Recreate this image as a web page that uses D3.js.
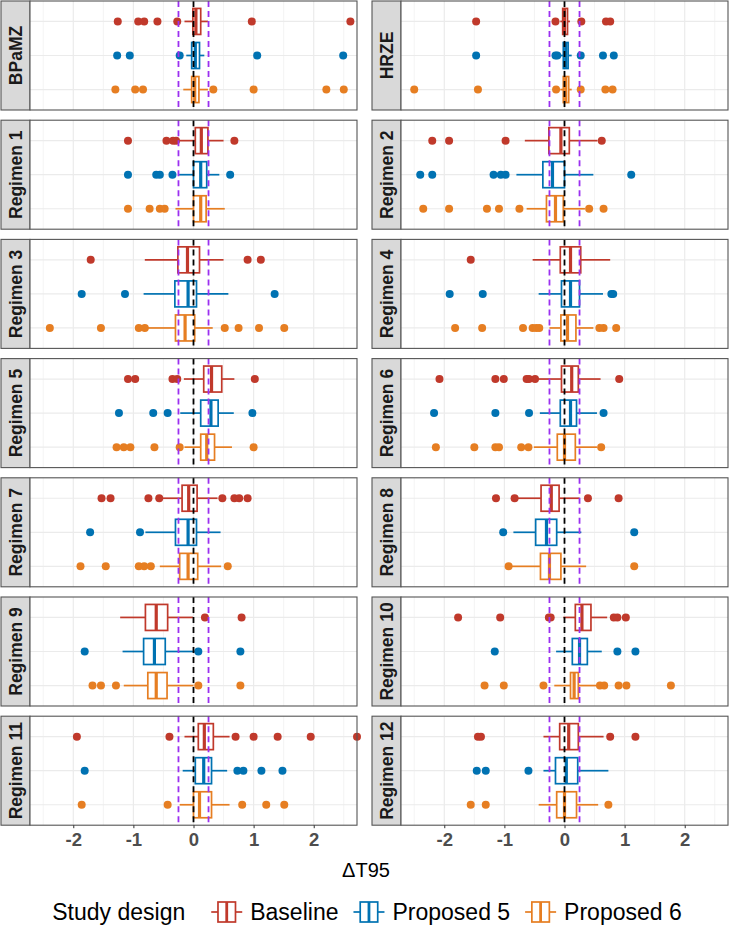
<!DOCTYPE html>
<html>
<head>
<meta charset="utf-8">
<script src="https://cdn.jsdelivr.net/npm/d3@7"></script>
<style>
  body { margin: 0; background: #fff; }
  svg { display: block; font-family: "Liberation Sans", Arial, sans-serif; }
</style>
</head>
<body>
<div id="chart"></div>
<script>
// facets and groups
const regimens = ["BPaMZ", "HRZE", "Regimen 1", "Regimen 2", "Regimen 3", "Regimen 4", "Regimen 5",
    "Regimen 6", "Regimen 7", "Regimen 8", "Regimen 9", "Regimen 10", "Regimen 11", "Regimen 12"];
const designs = ["Baseline", "Proposed 5", "Proposed 6"];
const designColors = ["#C0392B", "#0072B2", "#E67E22"];
const xTicks = [-2, -1, 0, 1, 2];
const refLines = [-0.25, 0, 0.25];

// box stats per regimen: [whisker low, q1, median, q3, whisker high]
const baselineBox = [
    [-0.15, -0.01, 0.04, 0.12, 0.24], [-0.07, -0.03, 0.00, 0.05, 0.09],
    [-0.23, 0.03, 0.13, 0.24, 0.50], [-0.66, -0.26, -0.06, 0.08, 0.55],
    [-0.81, -0.26, -0.10, 0.10, 0.50], [-0.53, -0.07, 0.10, 0.27, 0.76],
    [-0.16, 0.17, 0.30, 0.47, 0.68], [-0.46, -0.05, 0.12, 0.23, 0.60],
    [-0.51, -0.19, -0.08, 0.06, 0.40], [-0.80, -0.39, -0.22, -0.09, 0.25],
    [-1.22, -0.80, -0.62, -0.43, -0.01], [-0.02, 0.18, 0.29, 0.44, 0.71],
    [-0.15, 0.08, 0.18, 0.33, 0.60], [-0.35, -0.08, 0.07, 0.23, 0.65]
];
const proposed5Box = [
    [-0.12, -0.03, 0.03, 0.10, 0.18], [-0.07, -0.02, 0.02, 0.06, 0.12],
    [-0.24, 0.00, 0.12, 0.22, 0.43], [-0.80, -0.36, -0.20, 0.00, 0.48],
    [-0.83, -0.31, -0.09, 0.05, 0.58], [-0.43, -0.05, 0.10, 0.25, 0.64],
    [-0.22, 0.12, 0.29, 0.41, 0.67], [-0.41, -0.07, 0.10, 0.20, 0.54],
    [-0.80, -0.30, -0.09, 0.05, 0.45], [-0.85, -0.48, -0.30, -0.13, 0.28],
    [-1.18, -0.83, -0.65, -0.47, 0.02], [-0.14, 0.13, 0.25, 0.38, 0.62],
    [-0.18, 0.03, 0.17, 0.30, 0.56], [-0.35, -0.15, 0.03, 0.22, 0.73]
];
const proposed6Box = [
    [-0.17, -0.03, 0.02, 0.09, 0.24], [-0.07, -0.02, 0.02, 0.07, 0.12],
    [-0.30, 0.00, 0.12, 0.21, 0.52], [-0.63, -0.30, -0.15, -0.02, 0.34],
    [-0.77, -0.30, -0.14, 0.02, 0.32], [-0.25, -0.06, 0.05, 0.19, 0.48],
    [-0.15, 0.12, 0.22, 0.35, 0.64], [-0.51, -0.12, 0.00, 0.18, 0.54],
    [-0.56, -0.23, -0.09, 0.07, 0.46], [-0.90, -0.40, -0.25, -0.06, 0.36],
    [-1.16, -0.76, -0.62, -0.44, 0.00], [-0.17, 0.10, 0.16, 0.23, 0.54],
    [-0.23, 0.00, 0.10, 0.30, 0.60], [-0.43, -0.13, 0.00, 0.20, 0.56]
];

// outliers per regimen
const baselineOut = [
    [-1.26, -0.92, -0.82, -0.60, -0.27, 0.97, 2.61], [-1.47, -0.15, 0.28, 0.69, 0.76],
    [-1.09, -0.45, -0.34, -0.29, 0.68], [-2.20, -1.92, -0.98, 0.62],
    [-1.71, 0.90, 1.12], [-1.56],
    [-1.09, -0.97, -0.35, -0.27, 1.02], [-2.08, -1.15, -1.01, -0.63, -0.59, -0.49, 0.91],
    [-1.53, -1.38, -0.75, -0.57, 0.48, 0.68, 0.76, 0.90], [-1.14, -0.83, 0.39, 0.90],
    [0.19, 0.80], [-1.77, -1.07, -0.26, -0.23, 0.82, 0.88, 1.02],
    [-1.94, -0.40, 0.70, 1.00, 1.40, 1.95, 2.72], [-1.44, -1.39, 0.76, 1.18]
];
const proposed5Out = [
    [-1.27, -1.06, -0.23, 1.06, 2.49], [-1.47, -0.15, -0.12, 0.27, 0.64, 0.82],
    [-1.09, -0.62, -0.56, -0.35, 0.61], [-2.40, -2.20, -1.18, -1.06, -0.98, 1.11],
    [-1.86, -1.14, 1.35], [-1.91, -1.36, 0.78, 0.81],
    [-1.24, -0.67, -0.43, 0.98], [-2.17, -1.15, -0.59, 0.65],
    [-1.72, -0.89], [-1.02, 1.16],
    [-1.81, 0.08, 0.78], [-1.16, 0.88, 1.18],
    [-1.81, 0.73, 0.83, 1.13, 1.48], [-1.46, -1.31, -0.60]
];
const proposed6Out = [
    [-1.30, -0.97, -0.84, 0.33, 1.00, 2.21, 2.50], [-2.50, -1.44, -0.14, 0.27, 0.68, 0.80],
    [-1.09, -0.73, -0.56, -0.48], [-2.35, -1.92, -1.29, -1.09, -0.75, 0.41, 0.65],
    [-2.39, -1.54, -0.91, -0.81, 0.52, 0.75, 1.09, 1.51], [-1.82, -1.37, -0.69, -0.53, -0.47, -0.42, 0.58, 0.65, 0.86],
    [-1.28, -1.16, -1.05, -0.65, -0.23, 1.00], [-2.14, -1.50, -1.15, -1.09, -0.72, -0.60, 0.61],
    [-1.88, -1.46, -0.91, -0.82, -0.71, 0.57], [-0.93, 1.16],
    [-1.68, -1.54, -1.29, 0.08, 0.78], [-1.33, -1.01, -0.35, 0.59, 0.66, 0.90, 1.03, 1.77],
    [-1.86, -0.43, 0.81, 1.21, 1.51], [-1.56, -1.31, 0.73]
];

const boxes = [baselineBox, proposed5Box, proposed6Box];
const outliers = [baselineOut, proposed5Out, proposed6Out];

const width = 731, height = 928;
const colLeft = [1, 372];     // outer left of each facet (strip included)
const stripW = 29;
const plotW = 327;
const rowTop = 1, rowPitch = 119.2, panelH = 109;

const svg = d3.select("#chart").append("svg")
    .attr("width", width)
    .attr("height", height);

const x = d3.scaleLinear().domain([-2.72, 2.72]).range([0, plotW]);
const y = d3.scalePoint().domain(designs).range([0, panelH]).padding(0.6);
const boxH = 26;

const dashBlack = "#000", dashPurple = "#9B30F0";

regimens.forEach((reg, i) => {
    let col = i % 2, row = Math.floor(i / 2);
    let px = colLeft[col] + stripW, py = rowTop + row * rowPitch;

    // strip
    svg.append("rect")
        .attr("x", colLeft[col]).attr("y", py)
        .attr("width", stripW).attr("height", panelH)
        .attr("fill", "#D9D9D9").attr("stroke", "#555").attr("stroke-width", 1.1);
    svg.append("text")
        .attr("transform", `translate(${colLeft[col] + stripW / 2 + 6.5},${py + panelH / 2}) rotate(-90)`)
        .attr("text-anchor", "middle")
        .attr("font-size", 17.5).attr("font-weight", "bold").attr("fill", "#1A1A1A")
        .text(reg);

    let g = svg.append("g").attr("transform", `translate(${px},${py})`);
    g.append("rect").attr("width", plotW).attr("height", panelH).attr("fill", "#fff");

    // grid
    let minor = d3.range(-2.5, 2.6, 1);
    g.selectAll(".minor").data(minor).enter().append("line")
        .attr("x1", d => x(d)).attr("x2", d => x(d)).attr("y1", 0).attr("y2", panelH)
        .attr("stroke", "#EBEBEB").attr("stroke-width", 0.6);
    g.selectAll(".major").data(xTicks).enter().append("line")
        .attr("x1", d => x(d)).attr("x2", d => x(d)).attr("y1", 0).attr("y2", panelH)
        .attr("stroke", "#EBEBEB").attr("stroke-width", 1.2);
    g.selectAll(".hgrid").data(designs).enter().append("line")
        .attr("x1", 0).attr("x2", plotW).attr("y1", d => y(d)).attr("y2", d => y(d))
        .attr("stroke", "#EBEBEB").attr("stroke-width", 1.2);

    // boxplots
    designs.forEach((des, k) => {
        let s = boxes[k][i], c = designColors[k], cy = y(des);
        let bg = g.append("g");
        bg.append("line").attr("x1", x(s[0])).attr("x2", x(s[1])).attr("y1", cy).attr("y2", cy)
            .attr("stroke", c).attr("stroke-width", 1.7);
        bg.append("line").attr("x1", x(s[3])).attr("x2", x(s[4])).attr("y1", cy).attr("y2", cy)
            .attr("stroke", c).attr("stroke-width", 1.7);
        bg.append("rect").attr("x", x(s[1])).attr("y", cy - boxH / 2)
            .attr("width", x(s[3]) - x(s[1])).attr("height", boxH)
            .attr("fill", "#fff").attr("stroke", c).attr("stroke-width", 1.7);
        bg.append("line").attr("x1", x(s[2])).attr("x2", x(s[2]))
            .attr("y1", cy - boxH / 2).attr("y2", cy + boxH / 2)
            .attr("stroke", c).attr("stroke-width", 3.2);
        bg.selectAll("circle").data(outliers[k][i]).enter().append("circle")
            .attr("cx", d => x(d)).attr("cy", cy).attr("r", 4)
            .attr("fill", c);
    });

    // reference lines
    g.selectAll(".ref").data(refLines).enter().append("line")
        .attr("x1", d => x(d)).attr("x2", d => x(d)).attr("y1", 0).attr("y2", panelH)
        .attr("stroke", d => d === 0 ? dashBlack : dashPurple)
        .attr("stroke-width", 1.8).attr("stroke-dasharray", "6,4");

    g.append("rect").attr("width", plotW).attr("height", panelH)
        .attr("fill", "none").attr("stroke", "#555").attr("stroke-width", 1.1);

    // bottom axis on last row
    if (row === 6) {
        let ax = g.append("g").attr("transform", `translate(0,${panelH})`)
            .call(d3.axisBottom(x).tickValues(xTicks).tickSize(3).tickPadding(5)
                .tickFormat(d => d < 0 ? "-" + Math.abs(d) : d));
        ax.select(".domain").remove();
        ax.selectAll(".tick line").attr("stroke", "#333");
        ax.selectAll(".tick text")
            .attr("font-family", "Liberation Sans, Arial, sans-serif")
            .attr("font-size", 18.5).attr("font-weight", "bold").attr("fill", "#4D4D4D");
    }
});

// axis title
svg.append("text")
    .attr("x", 366).attr("y", 877)
    .attr("text-anchor", "middle")
    .attr("font-size", 20).attr("fill", "#000")
    .text("ΔT95");

// legend
const leg = svg.append("g");
const legY = 912;
let cursor = 0;
let title = leg.append("text").attr("x", cursor).attr("y", legY + 8)
    .attr("font-size", 23).attr("fill", "#000").text("Study design");
cursor += title.node().getComputedTextLength() + 24;
designs.forEach((des, k) => {
    let c = designColors[k], kw = 35, kh = 24;
    let kg = leg.append("g").attr("transform", `translate(${cursor},${legY - kh / 2})`);
    kg.append("line").attr("x1", 2).attr("x2", kw * 0.25).attr("y1", kh / 2).attr("y2", kh / 2)
        .attr("stroke", c).attr("stroke-width", 1.7);
    kg.append("line").attr("x1", kw * 0.75).attr("x2", kw - 2).attr("y1", kh / 2).attr("y2", kh / 2)
        .attr("stroke", c).attr("stroke-width", 1.7);
    kg.append("rect").attr("x", kw * 0.25).attr("y", 2).attr("width", kw * 0.5).attr("height", kh - 4)
        .attr("fill", "#fff").attr("stroke", c).attr("stroke-width", 1.7);
    kg.append("line").attr("x1", kw / 2).attr("x2", kw / 2).attr("y1", 2).attr("y2", kh - 2)
        .attr("stroke", c).attr("stroke-width", 2.8);
    cursor += kw + 6;
    let t = leg.append("text").attr("x", cursor).attr("y", legY + 8)
        .attr("font-size", 23).attr("fill", "#000").text(des);
    cursor += t.node().getComputedTextLength() + 13;
});
cursor -= 13;
leg.attr("transform", `translate(${367 - cursor / 2},0)`);
</script>
</body>
</html>
